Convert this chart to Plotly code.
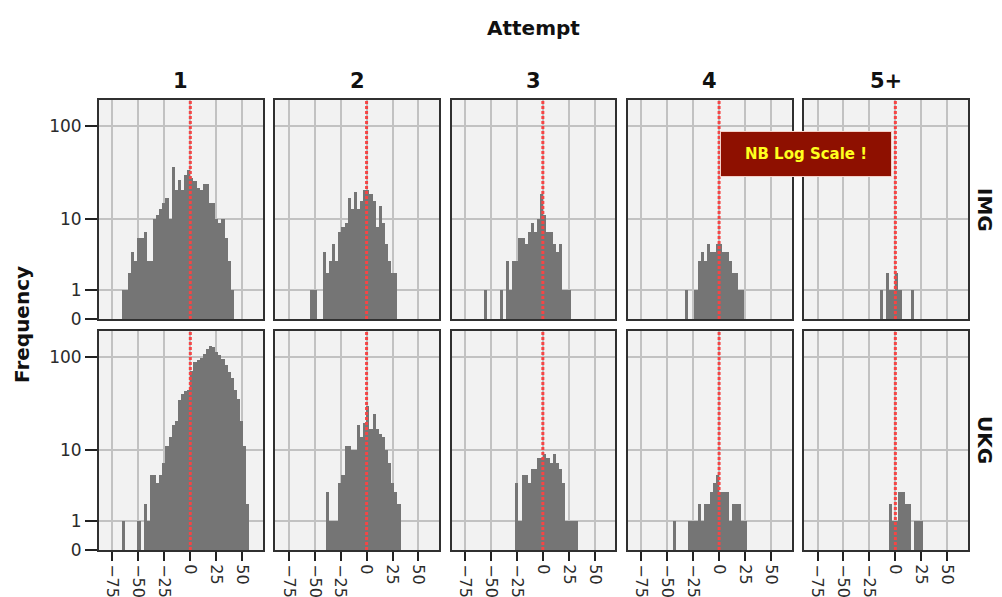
import plotly.graph_objects as go
from plotly.subplots import make_subplots

# ---- data ----
attempts = ["1", "2", "3", "4", "5+"]
groups = ["IMG", "UKG"]
bin_start = -66
bin_width = 3

img_1 = [1, 1, 2, 4, 3, 6, 6, 7, 3, 3, 10, 11, 13, 15, 17, 10, 37, 21, 27, 21,
         30, 34, 28, 26, 22, 21, 24, 24, 15, 15, 10, 9, 10, 6, 3, 1]
img_2 = [0, 0, 0, 0, 1, 1, 0, 0, 4, 2, 3, 5, 3, 7, 8, 9, 17, 13, 20, 13,
         16, 21, 21, 19, 16, 8, 14, 9, 5, 3, 2, 2]
img_3 = [0, 0, 0, 1, 0, 0, 0, 0, 1, 0, 3, 1, 3, 3, 6, 6, 5, 7, 9, 7,
         10, 19, 11, 7, 7, 5, 4, 5, 1, 1, 1]
img_4 = [0, 0, 0, 0, 0, 0, 0, 0, 0, 0, 0, 1, 0, 0, 1, 3, 4, 3, 5, 4,
         4, 5, 5, 4, 4, 3, 2, 2, 1, 1]
img_5 = [0, 0, 0, 0, 0, 0, 0, 0, 0, 0, 0, 0, 0, 0, 0, 0, 0, 1, 0, 2,
         1, 1, 2, 1, 0, 0, 0, 1]

ukg_1 = [1, 0, 0, 0, 0, 1, 0, 2, 1, 5, 5, 4, 5, 7, 11, 14, 19, 21, 35, 41,
         44, 45, 72, 88, 92, 98, 108, 122, 129, 128, 113, 104, 96, 82, 70, 60, 45, 36, 21, 11, 2]
ukg_2 = [0, 0, 0, 0, 0, 0, 0, 0, 0, 3, 1, 1, 1, 4, 5, 11, 11, 10, 10, 19,
         14, 20, 30, 17, 25, 17, 15, 14, 10, 7, 4, 3, 2]
ukg_3 = [0, 0, 0, 0, 0, 0, 0, 0, 0, 0, 0, 0, 0, 4, 1, 5, 5, 4, 6, 6,
         8, 8, 9, 8, 7, 9, 7, 6, 4, 1, 1, 1, 1]
ukg_4 = [0, 0, 0, 0, 0, 0, 0, 1, 0, 0, 0, 0, 1, 1, 1, 2, 1, 2, 2, 3,
         4, 5, 3, 3, 3, 1, 2, 2, 2, 1, 1]
ukg_5 = [0, 0, 0, 0, 0, 0, 0, 0, 0, 0, 0, 0, 0, 0, 0, 0, 0, 0, 0, 0,
         2, 1, 1, 3, 3, 2, 2, 0, 1, 1, 1]

series = {"IMG": [img_1, img_2, img_3, img_4, img_5],
          "UKG": [ukg_1, ukg_2, ukg_3, ukg_4, ukg_5]}

x_ticks = [-75, -50, -25, 0, 25, 50]
y_tick_counts = [0, 1, 10, 100]
y_tick_labels = ["0", "1", "10", "100"]

# ---- figure ----
W, H = 1002, 597
ML, MR, MT, MB = 99, 34, 100, 47
PW, PH = W - ML - MR, H - MT - MB

fig = make_subplots(rows=2, cols=5, horizontal_spacing=12.3 / PW,
                    vertical_spacing=12 / PH)

BAR = "#757575"
GRID = "#c2c2c2"
FRAME = "#303030"
TXT = "#2b2b2b"
FONT = "DejaVu Sans"

for r, g in enumerate(groups, start=1):
    for c, counts in enumerate(series[g], start=1):
        xs = [bin_start + bin_width * (i + 0.5) for i in range(len(counts))]
        fig.add_trace(go.Bar(x=xs, y=counts, base=1, width=bin_width,
                             marker=dict(color=BAR, line=dict(width=0)),
                             showlegend=False, hoverinfo="skip"),
                      row=r, col=c)

fig.update_xaxes(range=[-88, 70], tickvals=x_ticks, showgrid=True,
                 gridcolor=GRID, gridwidth=2, zeroline=False,
                 showline=True, mirror=True, linecolor=FRAME, linewidth=2,
                 showticklabels=False, ticks="", automargin=False)
fig.update_xaxes(row=2, showticklabels=True, ticks="outside", ticklen=9,
                 tickwidth=2, tickcolor="#222", tickangle=90,
                 tickfont=dict(family=FONT, size=16, color=TXT))

fig.update_yaxes(type="log", range=[0, 2.274],
                 tickvals=[v + 1 for v in y_tick_counts], ticktext=y_tick_labels,
                 showgrid=True, gridcolor=GRID, gridwidth=2, zeroline=False,
                 showline=True, mirror=True, linecolor=FRAME, linewidth=2,
                 showticklabels=False, ticks="", automargin=False)
fig.update_yaxes(col=1, showticklabels=True, ticks="outside", ticklen=12,
                 tickwidth=2, tickcolor="#222",
                 tickfont=dict(family=FONT, size=17, color=TXT))

fig.add_vline(x=0, row="all", col="all",
              line=dict(color="#f54545", width=3, dash="3px,2px"))


def px_x(p):
    return (p - ML) / PW


def px_y(p):
    return (H - MB - p) / PH


def label(x, y, text, size, **kw):
    d = dict(x=x, y=y, xref="paper", yref="paper", text=text, showarrow=False,
             xanchor="center", yanchor="middle",
             font=dict(family=FONT, size=size, color="#111"))
    d.update(kw)
    return d


annotations = []
for i, a in enumerate(attempts):
    dom = fig.layout["xaxis" if i == 0 else f"xaxis{i + 1}"].domain
    annotations.append(label((dom[0] + dom[1]) / 2, px_y(81), "<b>" + a + "</b>", 21))
annotations.append(label(0.5, px_y(28), "<b>Attempt</b>", 20))
for g, py in zip(groups, [210, 440]):
    annotations.append(label(px_x(985), px_y(py), "<b>" + g + "</b>", 20,
                             textangle=90))
annotations.append(label(px_x(22), px_y(325), "<b>Frequency</b>", 20,
                         textangle=-90))
annotations.append(label(px_x(805.8), px_y(153.7), "<b>NB Log Scale !</b>", 15,
                         width=168, height=42, bgcolor="#8e1000",
                         bordercolor="#f4d0c8", borderwidth=1, borderpad=1))
annotations[-1]["font"]["color"] = "#ffff1e"

fig.update_layout(width=W, height=H, margin=dict(l=ML, r=MR, t=MT, b=MB),
                  paper_bgcolor="white", plot_bgcolor="#f2f2f2",
                  bargap=0, annotations=annotations,
                  font=dict(family=FONT, color=TXT))

fig.write_html("out.html", config={"displayModeBar": False},
               post_script="document.body.style.margin='0px';")
